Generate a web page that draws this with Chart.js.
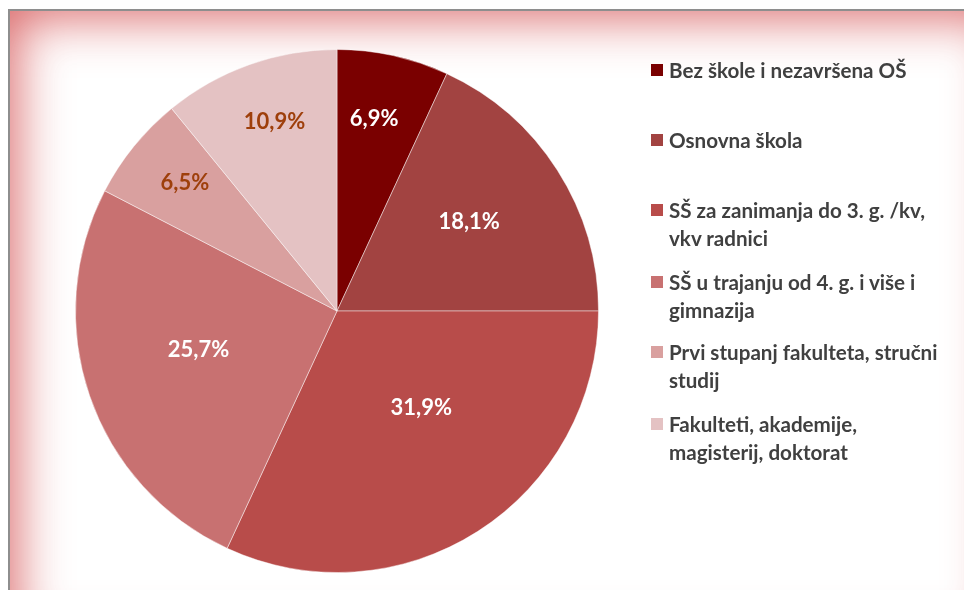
<!DOCTYPE html>
<html>
<head>
<meta charset="utf-8">
<script src="https://cdn.jsdelivr.net/npm/chart.js@4/dist/chart.umd.min.js"></script>
<style>
  html, body { margin: 0; padding: 0; background: #fff; width: 964px; height: 590px; overflow: hidden; }
  .okvir {
    position: absolute; left: 8px; top: 9px; width: 1000px; height: 640px;
    border: 2px solid #8e8e8e; box-sizing: border-box;
    background: #fff;
    box-shadow: inset 0 0 50px 7px rgba(214, 86, 88, 0.88);
  }
  #grafikon { position: absolute; left: 0; top: 0; }
  #legenda { position: absolute; left: 651px; top: 56px; font-family: Lato, "Open Sans", sans-serif; font-weight: 700; font-size: 20.6px; color: #404040; line-height: 28px; white-space: nowrap; }
  .stavka { position: relative; padding-left: 18px; }
  .kvadrat { position: absolute; left: 0; top: 8px; width: 12px; height: 12px; }
</style>
</head>
<body>
<div class="okvir"></div>
<canvas id="grafikon" width="964" height="590"></canvas>
<div id="legenda"></div>
<script>
// kategorije i udjeli (%) - čitano sa slike
const kategorije = [
  ['Bez škole i nezavršena OŠ'],
  ['Osnovna škola'],
  ['SŠ za zanimanja do 3. g. /kv,', 'vkv radnici'],
  ['SŠ u trajanju od 4. g. i više i', 'gimnazija'],
  ['Prvi stupanj fakulteta, stručni', 'studij'],
  ['Fakulteti, akademije,', 'magisterij, doktorat']
];
const udjeli = [6.9, 18.1, 31.9, 25.7, 6.5, 10.9];

const boje = ['#7a0000', '#a24341', '#b84c4a', '#c87171', '#d9a09f', '#e4c2c3'];
const bojeOznaka = ['#ffffff', '#ffffff', '#ffffff', '#ffffff', '#9e3f0b', '#9e3f0b'];
// udaljenost oznake od središta (dio polumjera) i pomak kuta (stupnjevi)
const polozajOznaka = [[0.75, -1.5], [0.61, -1.5], [0.49, -8.5], [0.55, 3.3], [0.76, 1], [0.76, 1.3]];

const oznakePlugin = {
  id: 'oznake',
  afterDatasetsDraw(chart) {
    const ctx = chart.ctx;
    const meta = chart.getDatasetMeta(0);
    ctx.save();
    ctx.font = 'bold 22px Lato, "Open Sans", sans-serif';
    ctx.textAlign = 'center';
    ctx.textBaseline = 'middle';
    meta.data.forEach((arc, i) => {
      const p = arc.getProps(['x', 'y', 'startAngle', 'endAngle', 'outerRadius'], true);
      const kut = (p.startAngle + p.endAngle) / 2 + polozajOznaka[i][1] * Math.PI / 180;
      const r = p.outerRadius * polozajOznaka[i][0];
      ctx.fillStyle = bojeOznaka[i];
      ctx.fillText(udjeli[i].toFixed(1).replace('.', ',') + '%', p.x + Math.cos(kut) * r, p.y + Math.sin(kut) * r);
    });
    ctx.restore();
  }
};

new Chart(document.getElementById('grafikon').getContext('2d'), {
  type: 'pie',
  data: {
    labels: kategorije.map(k => k.join(' ')),
    datasets: [{
      data: udjeli,
      backgroundColor: boje,
      borderColor: 'rgba(255,255,255,0.45)',
      borderWidth: 1
    }]
  },
  options: {
    responsive: false,
    animation: false,
    layout: { padding: { left: 75, right: 365, top: 49, bottom: 17 } },
    plugins: { legend: { display: false }, tooltip: { enabled: false } }
  },
  plugins: [oznakePlugin]
});

const leg = document.getElementById('legenda');
const razmaci = [0, 42, 42, 16, 14, 16];
leg.innerHTML = kategorije.map((k, i) =>
  `<div class="stavka" style="margin-top:${razmaci[i]}px"><span class="kvadrat" style="background:${boje[i]}"></span>${k.join('<br>')}</div>`
).join('');
</script>
</body>
</html>
